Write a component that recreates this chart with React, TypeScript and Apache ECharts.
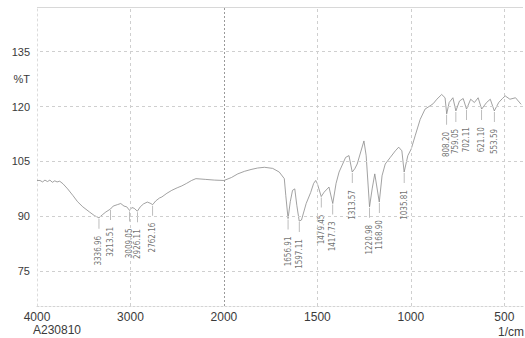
import React, { useEffect, useRef } from "react";
import * as echarts from "echarts";

// Spectrum (wavenumber 1/cm, %T)
const wavenumbers = [
  4000, 3968, 3940, 3915, 3888, 3862, 3835, 3810, 3785, 3757, 3722, 3672, 3616, 3566, 3510, 3439, 3386,
  3336.96, 3302, 3263, 3213.51, 3185, 3140, 3104, 3069, 3040, 3009.05, 2985, 2960, 2926.11, 2895, 2860,
  2820, 2790, 2762.16, 2730, 2690, 2664, 2610, 2558, 2500, 2452, 2400, 2346, 2300, 2200, 2100, 2000,
  1960, 1926, 1890, 1855, 1820, 1783, 1739, 1704, 1677, 1669, 1656.91, 1645, 1633, 1621, 1610, 1597.11,
  1585, 1560, 1536, 1520, 1509, 1500, 1479.45, 1464, 1438, 1417.73, 1400, 1384, 1349, 1331, 1313.57,
  1300, 1287, 1251, 1239, 1220.98, 1207, 1193, 1168.9, 1154, 1137, 1110, 1083, 1065, 1048, 1035.81,
  1016, 998, 977, 950, 924, 897, 880, 861, 835, 817, 808.2, 795, 775, 759.05, 740, 720, 702.11, 680,
  660, 640, 621.1, 595, 575, 553.59, 530, 510, 495, 470, 440, 410,
];
const transmittance = [
  99.8, 99.8, 99.4, 99.9, 99.5, 99.9, 99.3, 99.7, 99.4, 99.6, 98.9, 97.5, 95.7, 94.0, 92.6, 91.2, 90.2,
  89.6, 90.4, 91.2, 92.0, 92.8, 93.2, 93.5, 92.8, 92.6, 91.6, 92.4, 92.2, 91.4, 92.6, 93.4,
  93.9, 93.6, 93.2, 94.2, 95.0, 95.3, 96.3, 97.1, 97.8, 98.3, 99.0, 99.8, 100.3, 100.1, 99.9, 99.8,
  100.6, 101.6, 102.3, 102.8, 103.2, 103.4, 103.1, 102.1, 100.3, 95.7, 89.4, 94.0, 97.1, 97.5, 93.0, 88.7,
  89.0, 93.5, 96.5, 99.0, 99.8, 98.9, 95.4, 96.6, 98.0, 93.5, 99.0, 102.1, 106.1, 106.6, 102.1,
  103.0, 104.3, 110.6, 106.6, 92.6, 97.5, 101.6, 93.9, 101.1, 104.3, 106.1, 107.9, 108.9, 107.9, 102.1,
  106.6, 108.4, 112.0, 116.5, 119.3, 120.2, 120.8, 122.0, 123.3, 122.4, 118.0, 121.1, 122.4, 118.8, 121.5, 122.2, 119.3, 122.0,
  121.1, 122.4, 119.3, 121.1, 122.0, 118.8, 121.1, 122.2, 122.9, 122.0, 122.4, 120.6,
];

// Labelled peaks
const peakWn = [3336.96, 3213.51, 3009.05, 2926.11, 2762.16, 1656.91, 1597.11, 1479.45, 1417.73, 1313.57, 1220.98, 1168.9, 1035.81, 808.2, 759.05, 702.11, 621.1, 553.59];
const peakT = [89.6, 92.0, 91.6, 91.4, 93.2, 89.4, 88.7, 95.4, 93.5, 102.1, 92.6, 93.9, 102.1, 118.0, 118.8, 119.3, 119.3, 118.8];

// Axis ticks
const xTickWn = [4000, 3000, 2000, 1500, 1000, 500];
const yTicks = [75, 90, 105, 120, 135];
const yAxisTitle = "%T";
const xUnit = "1/cm";
const sampleId = "A230810";

// Half-scale above 2000 1/cm
const tf = (wn: number) => (wn > 2000 ? 2000 + (wn - 2000) / 2 : wn);
const untf = (v: number) => (v > 2000 ? 2000 + (v - 2000) * 2 : v);

export default function App() {
  const ref = useRef<HTMLDivElement>(null);
  useEffect(() => {
    if (!ref.current) return;
    const chart = echarts.init(ref.current, null, { renderer: "svg" });
    const gridLineY = yTicks.map((v) => ({ yAxis: v }));
    const gridLineX = [3000, 1500, 1000, 500].map((w) => ({ xAxis: tf(w) }));
    chart.setOption({
      animation: false,
      backgroundColor: "#ffffff",
      textStyle: { fontFamily: "Liberation Sans, Arial, sans-serif" },
      grid: { left: 37, right: 2, top: 7, bottom: 32, containLabel: false },
      xAxis: {
        type: "value",
        inverse: true,
        min: 400,
        max: 3000,
        axisLine: { show: true, lineStyle: { color: "#d4d4d4", width: 1, type: [2, 2] } },
        axisTick: { show: false },
        splitLine: { show: false },
        axisLabel: {
          customValues: xTickWn.map(tf),
          formatter: (v: number) => String(Math.round(untf(v))),
          color: "#3a3a3a",
          fontSize: 12,
          margin: 5,
          lineHeight: 12,
        },
      },
      yAxis: {
        type: "value",
        min: 65.5,
        max: 147.2,
        axisLine: { show: true, lineStyle: { color: "#dcdcdc", width: 1, type: [2, 3] } },
        axisTick: { show: false },
        splitLine: { show: false },
        axisLabel: {
          customValues: [...yTicks, 127.5],
          formatter: (v: number) => (v === 127.5 ? yAxisTitle : String(v)),
          color: "#3a3a3a",
          fontSize: 11,
          margin: 7,
        },
      },
      series: [
        {
          type: "line",
          data: wavenumbers.map((w, i) => [tf(w), transmittance[i]]),
          symbol: "none",
          smooth: false,
          lineStyle: { color: "#8a8a8a", width: 0.8 },
          z: 3,
          markLine: {
            silent: true,
            symbol: "none",
            label: { show: false },
            lineStyle: { color: "#cfcfcf", width: 1, type: [3, 3] },
            data: [
              ...gridLineY,
              ...gridLineX,
              { xAxis: tf(2000), lineStyle: { color: "#9a9a9a", width: 1, type: [2, 2] } },
              { yAxis: 147.2, lineStyle: { color: "#d8d8d8", width: 1, type: "solid" } },
            ],
          },
        },
        {
          type: "scatter",
          data: peakWn.map((w, i) => [tf(w), peakT[i], w]),
          symbol: "rect",
          symbolSize: [0.7, 10],
          symbolOffset: [0, 6],
          itemStyle: { color: "#8a8a8a" },
          z: 4,
          label: {
            show: true,
            position: "bottom",
            distance: 7,
            rotate: 90,
            align: "right",
            verticalAlign: "middle",
            formatter: (p: any) => (p.value[2] as number).toFixed(2),
            color: "#4a4a4a",
            fontSize: 8,
            fontFamily: "DejaVu Sans Condensed, Liberation Sans Narrow, sans-serif",
          },
        },
      ],
      graphic: [
        { type: "text", left: 33, top: 324, style: { text: sampleId, fill: "#3a3a3a", fontSize: 12, fontFamily: "Liberation Sans, Arial, sans-serif" } },
        { type: "text", left: 498, top: 326, style: { text: xUnit, fill: "#3a3a3a", fontSize: 12, fontFamily: "Liberation Sans, Arial, sans-serif" } },
      ],
    });
    return () => chart.dispose();
  }, []);
  return <div ref={ref} style={{ position: "fixed", left: 0, top: 0, width: 525, height: 338 }} />;
}
